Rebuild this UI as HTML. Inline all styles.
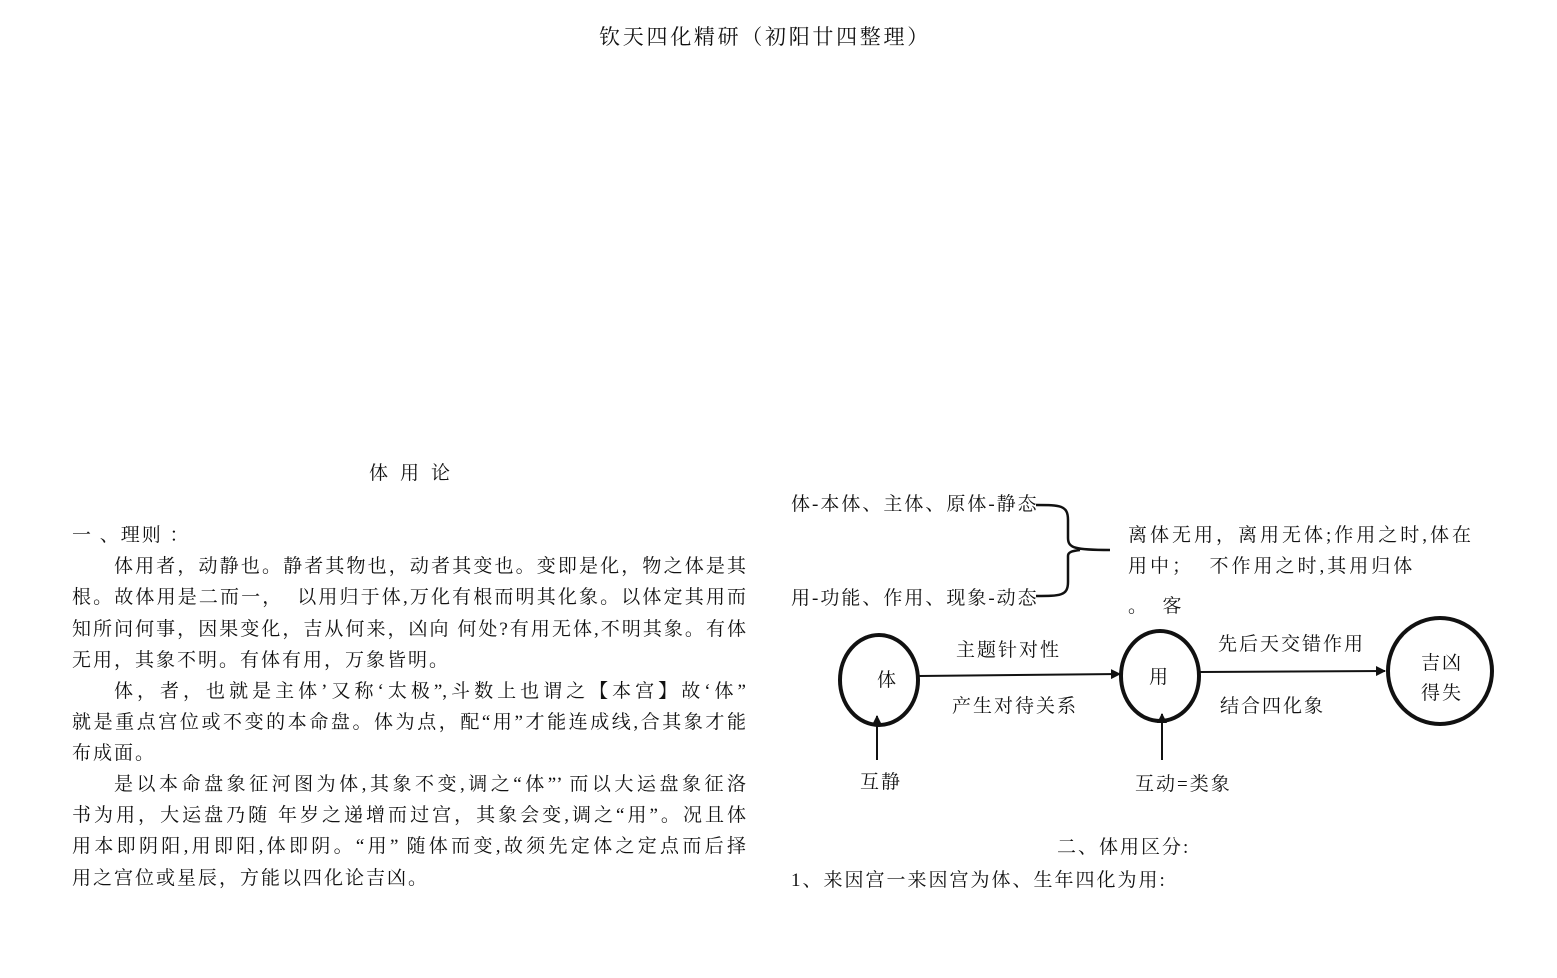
<!DOCTYPE html>
<html><head><meta charset="utf-8">
<style>
body{margin:0;width:1557px;height:978px;background:#fff;position:relative;overflow:hidden;font-family:"Liberation Serif","Noto Serif CJK SC",serif;color:#111;}
.t{position:absolute;font-size:19px;line-height:30px;height:30px;white-space:nowrap;letter-spacing:2px;}
.j{text-align:justify;text-align-last:justify;letter-spacing:0;}
</style></head><body>
<div class="t" style="left:0;width:1530px;text-align:center;top:22px;font-size:21px;letter-spacing:2.7px">钦天四化精研（初阳廿四整理）</div>
<div class="t" style="left:369px;top:459px;letter-spacing:12px">体用论</div>

<div class="t" style="left:72px;top:521px">一 、理则 ：</div>
<div class="t j" style="left:114px;width:632px;top:552px">体用者，动静也。静者其物也，动者其变也。变即是化，物之体是其</div>
<div class="t j" style="left:72px;width:674px;top:583px">根。故体用是二而一，&nbsp; 以用归于体,万化有根而明其化象。以体定其用而</div>
<div class="t j" style="left:72px;width:674px;top:615px">知所问何事，因果变化，吉从何来，凶向 何处?有用无体,不明其象。有体</div>
<div class="t" style="left:72px;top:646px">无用，其象不明。有体有用，万象皆明。</div>
<div class="t j" style="left:114px;width:632px;top:677px">体，者，也就是主体’又称‘太极”,斗数上也谓之【本宫】故‘体”</div>
<div class="t j" style="left:72px;width:674px;top:708px">就是重点宫位或不变的本命盘。体为点，配“用”才能连成线,合其象才能</div>
<div class="t" style="left:72px;top:739px">布成面。</div>
<div class="t j" style="left:114px;width:632px;top:770px">是以本命盘象征河图为体,其象不变,调之“体”’ 而以大运盘象征洛</div>
<div class="t j" style="left:72px;width:674px;top:801px">书为用，大运盘乃随 年岁之递增而过宫，其象会变,调之“用”。况且体</div>
<div class="t j" style="left:72px;width:674px;top:832px">用本即阴阳,用即阳,体即阴。“用” 随体而变,故须先定体之定点而后择</div>
<div class="t" style="left:72px;top:864px">用之宫位或星辰，方能以四化论吉凶。</div>

<div class="t" style="left:791px;top:490px">体-本体、主体、原体-静态</div>
<div class="t" style="left:791px;top:584px">用-功能、作用、现象-动态</div>
<div class="t" style="left:1128px;top:521px;letter-spacing:3px">离体无用，离用无体;作用之时,体在</div>
<div class="t" style="left:1128px;top:552px;letter-spacing:3px">用中；&nbsp; 不作用之时,其用归体</div>
<div class="t" style="left:1128px;top:592px">。&nbsp; 客</div>

<svg style="position:absolute;left:0;top:0" width="1557" height="978">
<defs><marker id="a" markerWidth="10" markerHeight="10" refX="9" refY="5" orient="auto" markerUnits="userSpaceOnUse"><path d="M0,0 L10,5 L0,10 z" fill="#111"/></marker></defs>
<path d="M1036,505 C1060,505 1068,505 1068,520 L1068,538 C1068,548 1075,550 1110,550 M1068,556 C1068,552 1072,551 1080,550 M1068,556 L1068,582 C1068,596 1060,596 1036,596" fill="none" stroke="#111" stroke-width="2.5"/>
<ellipse cx="879" cy="680" rx="39" ry="45" fill="none" stroke="#111" stroke-width="4"/>
<ellipse cx="1160" cy="676" rx="39" ry="45" fill="none" stroke="#111" stroke-width="4"/>
<ellipse cx="1440" cy="671" rx="52" ry="53" fill="none" stroke="#111" stroke-width="4"/>
<line x1="919" y1="676" x2="1120" y2="674" stroke="#111" stroke-width="2" marker-end="url(#a)"/>
<line x1="1200" y1="672" x2="1385" y2="671" stroke="#111" stroke-width="2" marker-end="url(#a)"/>
<line x1="877" y1="760" x2="877" y2="716" stroke="#111" stroke-width="2" marker-end="url(#a)"/>
<line x1="1162" y1="760" x2="1162" y2="714" stroke="#111" stroke-width="2" marker-end="url(#a)"/>
</svg>
<div class="t" style="left:877px;top:666px">体</div>
<div class="t" style="left:1149px;top:663px">用</div>
<div class="t" style="left:1421px;top:649px">吉凶</div>
<div class="t" style="left:1421px;top:679px">得失</div>
<div class="t" style="left:956px;top:636px">主题针对性</div>
<div class="t" style="left:952px;top:692px">产生对待关系</div>
<div class="t" style="left:1218px;top:630px">先后天交错作用</div>
<div class="t" style="left:1220px;top:692px">结合四化象</div>
<div class="t" style="left:860px;top:768px">互静</div>
<div class="t" style="left:1135px;top:770px">互动=类象</div>
<div class="t" style="left:1057px;top:833px">二、体用区分:</div>
<div class="t" style="left:791px;top:866px">1、来因宫一来因宫为体、生年四化为用:</div>
</body></html>
